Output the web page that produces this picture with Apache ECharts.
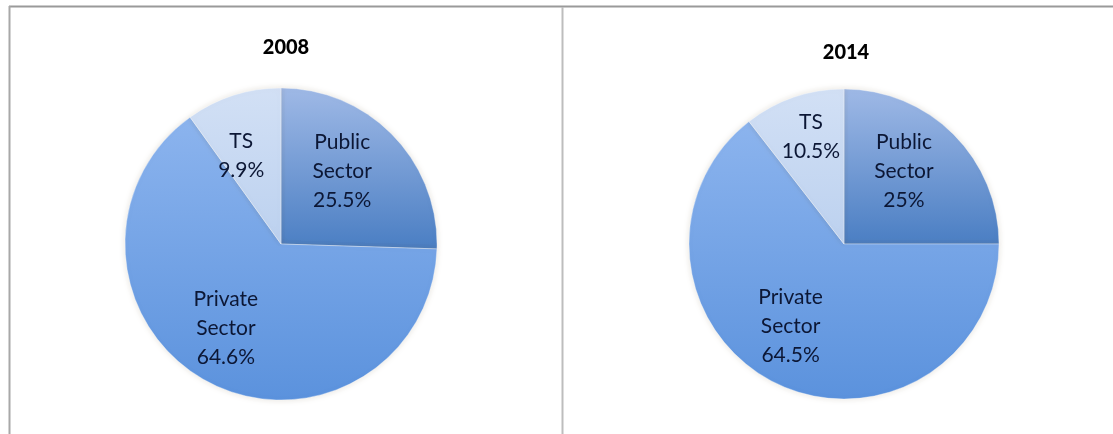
<!DOCTYPE html>
<html>
<head>
<meta charset="utf-8">
<script src="https://cdn.jsdelivr.net/npm/echarts@6/dist/echarts.min.js"></script>
<style>
  html, body { margin: 0; padding: 0; background: #ffffff; }
  #chart { width: 1113px; height: 434px; }
</style>
</head>
<body>
<div id="chart"></div>
<script>
// ---- data ----
const sectors = ['Public Sector', 'Private Sector', 'TS'];
const years = ['2008', '2014'];
const values2008 = [25.5, 64.6, 9.9];
const values2014 = [25, 64.5, 10.5];

// ---- styling ----
const gradients = [
  ['#9fb9e6', '#4a7ec3'],
  ['#8cb4ee', '#5b92dd'],
  ['#d2e0f5', '#bcd1ef']
];
function grad(i) {
  return new echarts.graphic.LinearGradient(0, 0, 0, 1, [
    { offset: 0, color: gradients[i][0] },
    { offset: 1, color: gradients[i][1] }
  ]);
}
// label nudges from the 'inside' position [seriesIndex][dataIndex]
const nudges = [
  [[3, -16], [-17, 13], [-15, -11]],
  [[3, -16], [-18, 10], [-7, -31]]
];

function makeSeries(vals, center, radius, si) {
  return {
    type: 'pie',
    center: center,
    radius: radius,
    startAngle: 90,
    clockwise: true,
    silent: true,
    animation: false,
    data: sectors.map((n, i) => ({
      name: n, value: vals[i],
      itemStyle: { color: grad(i) }
    })),
    itemStyle: {
      borderColor: 'rgba(255,255,255,0.35)',
      borderWidth: 1,
      shadowBlur: 6,
      shadowColor: 'rgba(120,100,60,0.18)'
    },
    label: {
      show: true,
      position: 'inside',
      formatter: p => p.name.replace(' ', '\n') + '\n' + p.value + '%',
      fontFamily: 'Lato',
      fontSize: 21,
      lineHeight: 29,
      color: '#0c1735',
      align: 'center'
    },
    labelLine: { show: false },
    labelLayout: function (params) {
      const d = nudges[si][params.dataIndex];
      return { dx: d[0], dy: d[1] };
    }
  };
}

const chart = echarts.init(document.getElementById('chart'), null, { renderer: 'canvas' });
chart.setOption({
  backgroundColor: '#ffffff',
  title: [
    { text: years[0], left: 281, top: 33, textAlign: 'center',
      textStyle: { fontFamily: 'Lato', fontWeight: 900, fontSize: 20, color: '#000' } },
    { text: years[1], left: 841, top: 38, textAlign: 'center',
      textStyle: { fontFamily: 'Lato', fontWeight: 900, fontSize: 20, color: '#000' } }
  ],
  graphic: [
    { type: 'line', shape: { x1: 9, y1: 6.5, x2: 1113, y2: 6.5 }, style: { stroke: '#9a9a9a', lineWidth: 2 } },
    { type: 'line', shape: { x1: 9.5, y1: 6, x2: 9.5, y2: 434 }, style: { stroke: '#a8a8a8', lineWidth: 2 } },
    { type: 'line', shape: { x1: 562.5, y1: 7, x2: 562.5, y2: 434 }, style: { stroke: '#bdbdbd', lineWidth: 2 } }
  ],
  series: [
    makeSeries(values2008, [281, 244], 156, 0),
    makeSeries(values2014, [844, 244], 155, 1)
  ]
});
</script>
</body>
</html>
